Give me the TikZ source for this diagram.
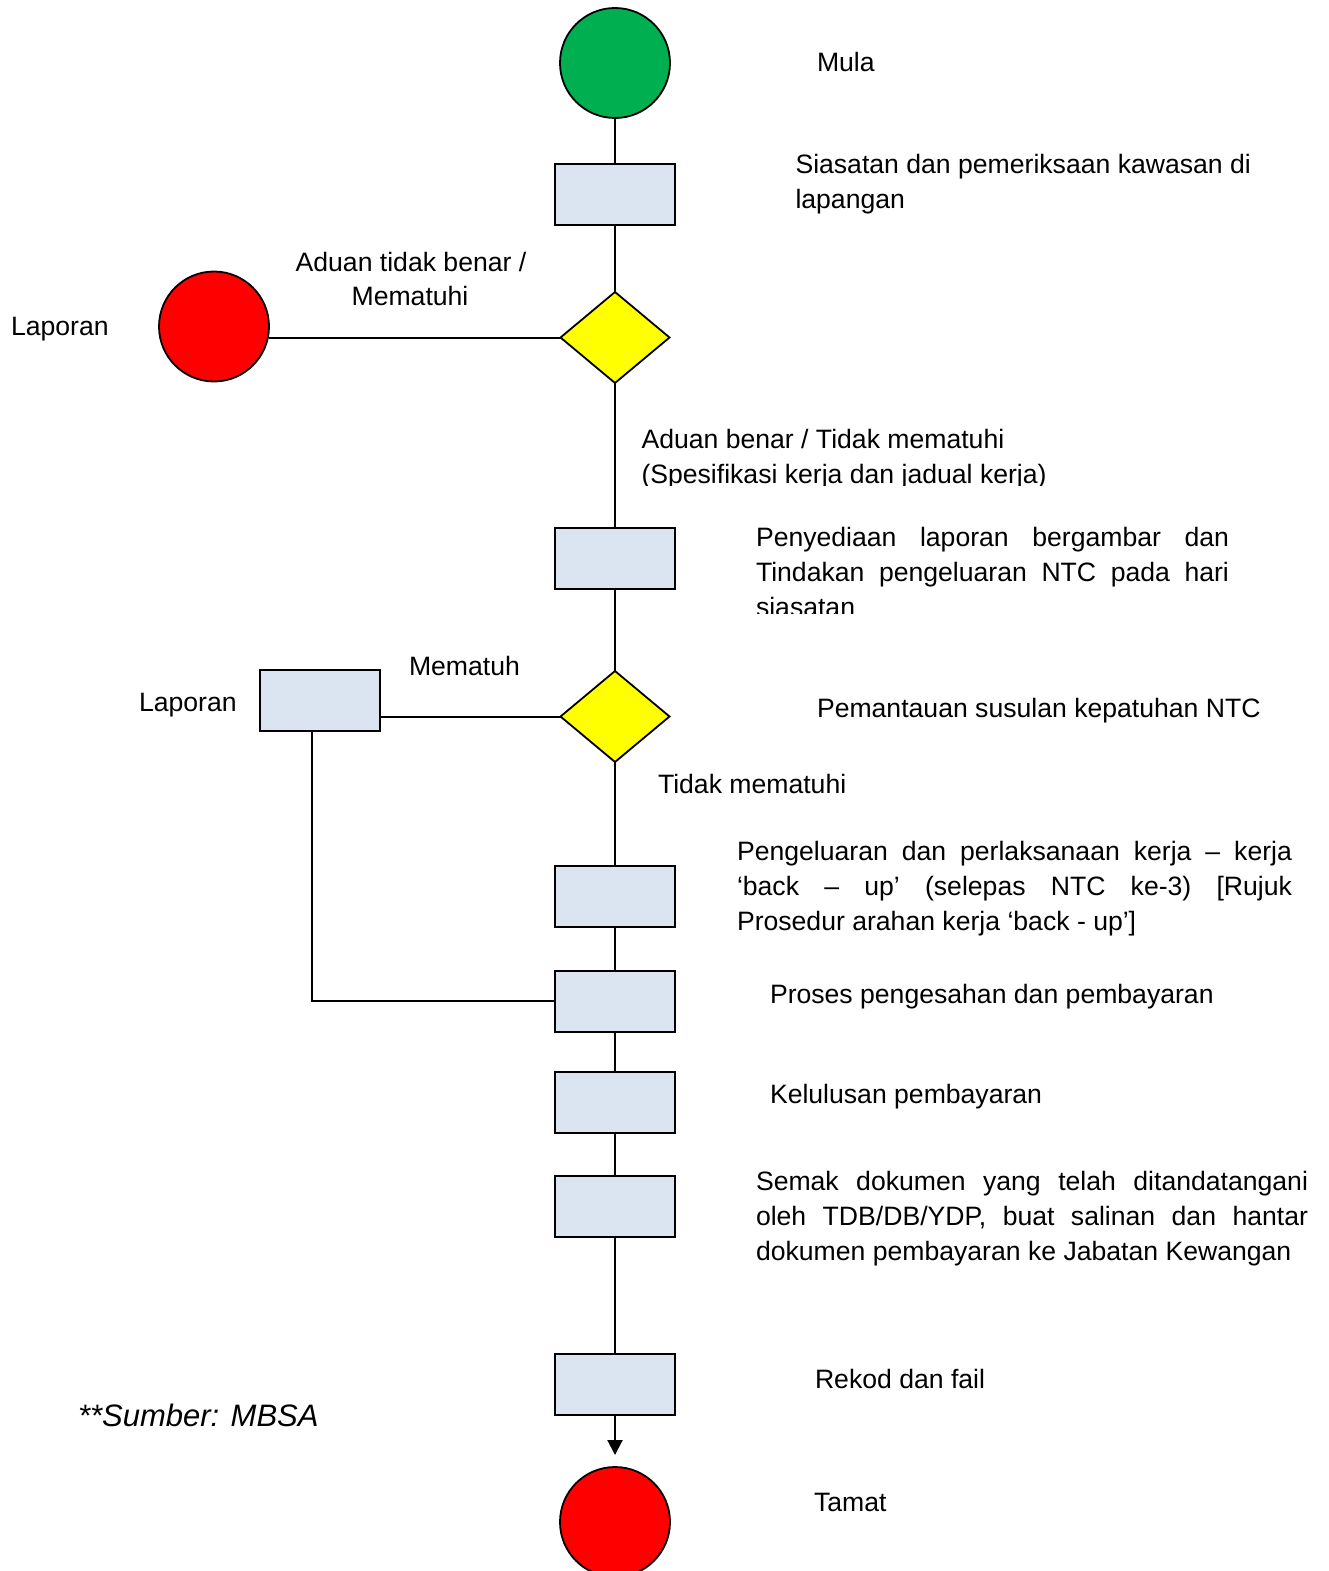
\documentclass[tikz,border=0pt]{standalone}
\usepackage{fontspec}
\setmainfont{Liberation Sans}
\usetikzlibrary{arrows.meta,shapes.geometric}
\definecolor{startgreen}{HTML}{00B050}
\definecolor{stopred}{HTML}{FF0000}
\definecolor{decyellow}{HTML}{FFFF00}
\definecolor{boxblue}{HTML}{DBE5F1}
\newcommand{\jl}[2]{\hbox{\makebox[#1][s]{#2}}}
\begin{document}
\begin{tikzpicture}[x=1pt,y=-1pt,
  every node/.style={inner sep=0pt, outer sep=0pt},
  conn/.style={line width=2pt, draw=black},
  procbox/.style={draw=black, line width=2pt, fill=boxblue, minimum width=120pt, minimum height=61pt},
  termcirc/.style={circle, draw=black, line width=1.8pt, minimum size=110pt},
  decision/.style={diamond, draw=black, line width=1.8pt, fill=decyellow, minimum width=109pt, minimum height=91pt},
  lbl/.style={anchor=base west, font=\fontsize{26.6pt}{35pt}\selectfont},
  clbl/.style={anchor=base, font=\fontsize{26.6pt}{35pt}\selectfont},
  srclbl/.style={anchor=base west, font=\fontsize{31pt}{36pt}\selectfont\itshape}
]
\useasboundingbox (0,0) rectangle (1329,1571);

% shapes
\node[termcirc, fill=startgreen] (start) at (615,63) {};
\node[procbox] (b1) at (615,194) {};
\node[decision] (d1) at (615,337.5) {};
\node[termcirc, fill=stopred] (rep1) at (214,326.5) {};
\node[procbox] (b2) at (615,558.5) {};
\node[decision] (d2) at (615,716.5) {};
\node[procbox] (b3) at (319.5,700.5) {};
\node[procbox] (b4) at (615,896.5) {};
\node[procbox] (b5) at (615,1001) {};
\node[procbox] (b6) at (615,1102.5) {};
\node[procbox] (b7) at (615,1206.5) {};
\node[procbox] (b8) at (615,1384.5) {};
\node[termcirc, fill=stopred] (end) at (615,1522) {};
\coordinate (kink) at (312,1001);

% connectors
\draw[conn] (start.south) -- (b1.north);
\draw[conn] (b1.south) -- (d1.north);
\draw[conn] (d1.west) -- (d1.west -| rep1.east);
\draw[conn] (d1.south) -- (b2.north);
\draw[conn] (b2.south) -- (d2.north);
\draw[conn] (d2.west) -- (d2.west -| b3.east);
\draw[conn] (d2.south) -- (b4.north);
\draw[conn] (b3.south -| kink) -- (kink) -- (b5.west);
\draw[conn] (b4.south) -- (b5.north);
\draw[conn] (b5.south) -- (b6.north);
\draw[conn] (b6.south) -- (b7.north);
\draw[conn] (b7.south) -- (b8.north);
\draw[conn, -{Triangle[width=15pt,length=15pt]}, shorten >=12pt] (b8.south) -- (end.north);

% labels
\node[lbl] (tmula) at (817,71.5) {Mula};
\node[lbl] (tsiasat) at (795.5,173.5) {\vtop{\baselineskip=35pt \hbox{Siasatan dan pemeriksaan kawasan di}\hbox{lapangan}}};
\node[clbl] (taduan1) at (411,271.5) {Aduan tidak benar /};
\node[clbl] (taduan2) at (410,305.5) {Mematuhi};
\node[lbl] (tlap1) at (11,335.5) {Laporan};
\node[lbl] (tbenar) at (641.5,448.5) {Aduan benar / Tidak mematuhi};
\begin{scope}
  \clip (600,455) rectangle (1329,485);
  \node[lbl] (tspes) at (641.5,483) {(Spesifikasi kerja dan jadual kerja)};
\end{scope}
\begin{scope}
  \clip (700,500) rectangle (1329,613);
  \node[lbl] (tpenyed) at (756,546.5) {\vtop{\baselineskip=35pt
    \jl{473pt}{Penyediaan laporan bergambar dan}
    \jl{473pt}{Tindakan pengeluaran NTC pada hari}
    \hbox{siasatan}}};
\end{scope}
\node[lbl] (tmematuh) at (409,675.5) {Mematuh};
\node[lbl] (tlap2) at (139,711.5) {Laporan};
\node[lbl] (tpantau) at (817,717.5) {Pemantauan susulan kepatuhan NTC};
\node[lbl] (ttidak) at (658,793.5) {Tidak mematuhi};
\node[lbl] (tkeluar) at (737,860.5) {\vtop{\baselineskip=35pt
    \jl{555pt}{Pengeluaran dan perlaksanaan kerja – kerja}
    \jl{555pt}{‘back – up’ (selepas NTC ke-3) [Rujuk}
    \hbox{Prosedur arahan kerja ‘back - up’]}}};
\node[lbl] (tproses) at (770,1003.5) {Proses pengesahan dan pembayaran};
\node[lbl] (tlulus) at (770,1103.5) {Kelulusan pembayaran};
\node[lbl] (tsemak) at (756,1190.5) {\vtop{\baselineskip=35pt
    \jl{552pt}{Semak dokumen yang telah ditandatangani}
    \jl{552pt}{oleh TDB/DB/YDP, buat salinan dan hantar}
    \hbox{dokumen pembayaran ke Jabatan Kewangan}}};
\node[lbl] (trekod) at (815,1388.5) {Rekod dan fail};
\node[srclbl] (tsumber) at (78,1426) {**Sumber: MBSA};
\node[lbl] (ttamat) at (814,1511.5) {Tamat};
\end{tikzpicture}
\end{document}
